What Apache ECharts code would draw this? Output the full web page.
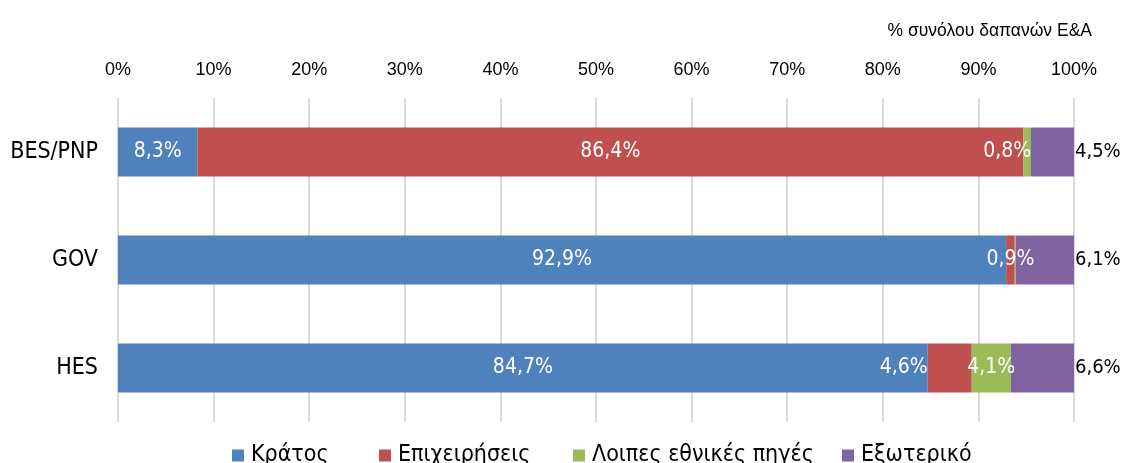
<!DOCTYPE html>
<html>
<head>
<meta charset="utf-8">
<script src="https://cdn.jsdelivr.net/npm/echarts@6/dist/echarts.min.js"></script>
<style>html,body{margin:0;padding:0;background:#fff;}#c{width:1123px;height:463px;}</style>
</head>
<body>
<div id="c"></div>
<script>
const categories = ['BES/PNP', 'GOV', 'HES'];
const seriesNames = ['Κράτος', 'Επιχειρήσεις', 'Λοιπες εθνικές πηγές', 'Εξωτερικό'];
const kratos = [8.3, 92.9, 84.7];
const epixeiriseis = [86.4, 0.9, 4.6];
const loipes = [0.8, 0.1, 4.1];
const exoteriko = [4.5, 6.1, 6.6];
const tickLabels = [0, 10, 20, 30, 40, 50, 60, 70, 80, 90, 100];
const axisTitle = '% συνόλου δαπανών E&A';

const colors = ['#4F81BD', '#C0504D', '#9BBB59', '#8064A2'];
const NARROW = "'Liberation Sans Narrow', 'Arial Narrow', 'DejaVu Sans Condensed', sans-serif";
const REG = "'Liberation Sans', Arial, sans-serif";
const fmt = v => String(v).replace('.', ',') + '%';
const legendLefts = [227, 374, 568, 837];

function items(values, overrides) {
  return values.map((v, i) => {
    const o = { value: v };
    if (overrides && overrides[i]) o.label = overrides[i];
    return o;
  });
}

const insideLabel = {
  show: true, position: 'inside', color: '#fff', fontFamily: NARROW, fontSize: 21,
  formatter: p => fmt(p.value)
};

const chart = echarts.init(document.getElementById('c'), null, { renderer: 'canvas' });
chart.setOption({
  animation: false,
  color: colors,
  title: {
    text: axisTitle, right: 26, top: 17,
    textStyle: { fontFamily: REG, fontSize: 17.5, fontWeight: 'normal', color: '#000' }
  },
  grid: { left: 118, right: 49, top: 98, bottom: 41, containLabel: false },
  legend: seriesNames.map((n, i) => ({
    data: [n], left: legendLefts[i], top: 439, itemWidth: 12, itemHeight: 12,
    icon: 'rect',
    textStyle: { fontFamily: NARROW, fontSize: 23, color: '#000', padding: [0, 0, 0, 2] }
  })),
  xAxis: {
    type: 'value', position: 'top', min: 0, max: 100, interval: 10,
    axisLabel: {
      fontFamily: REG, fontSize: 18, color: '#000', margin: 19,
      formatter: v => tickLabels.includes(v) ? v + '%' : ''
    },
    axisLine: { show: false }, axisTick: { show: false },
    splitLine: { show: true, lineStyle: { color: '#D9D9D9', width: 2 } }
  },
  yAxis: {
    type: 'category', data: categories, inverse: true,
    axisLabel: { fontFamily: NARROW, fontSize: 23, color: '#000', margin: 20 },
    axisLine: { show: false }, axisTick: { show: false }
  },
  series: [
    { name: seriesNames[0], type: 'bar', stack: 'a', barWidth: 49, data: items(kratos), label: insideLabel },
    { name: seriesNames[1], type: 'bar', stack: 'a', data: items(epixeiriseis, { 2: { offset: [-46, 0] } }), label: insideLabel },
    { name: seriesNames[2], type: 'bar', stack: 'a', data: items(loipes, { 0: { offset: [-20, 0] }, 1: { show: false } }), label: insideLabel },
    { name: seriesNames[3], type: 'bar', stack: 'a', data: items(exoteriko),
      label: { show: true, position: 'right', distance: 1, color: '#000', fontFamily: NARROW, fontSize: 20,
               formatter: p => fmt(p.value) } }
  ]
});
</script>
</body>
</html>
